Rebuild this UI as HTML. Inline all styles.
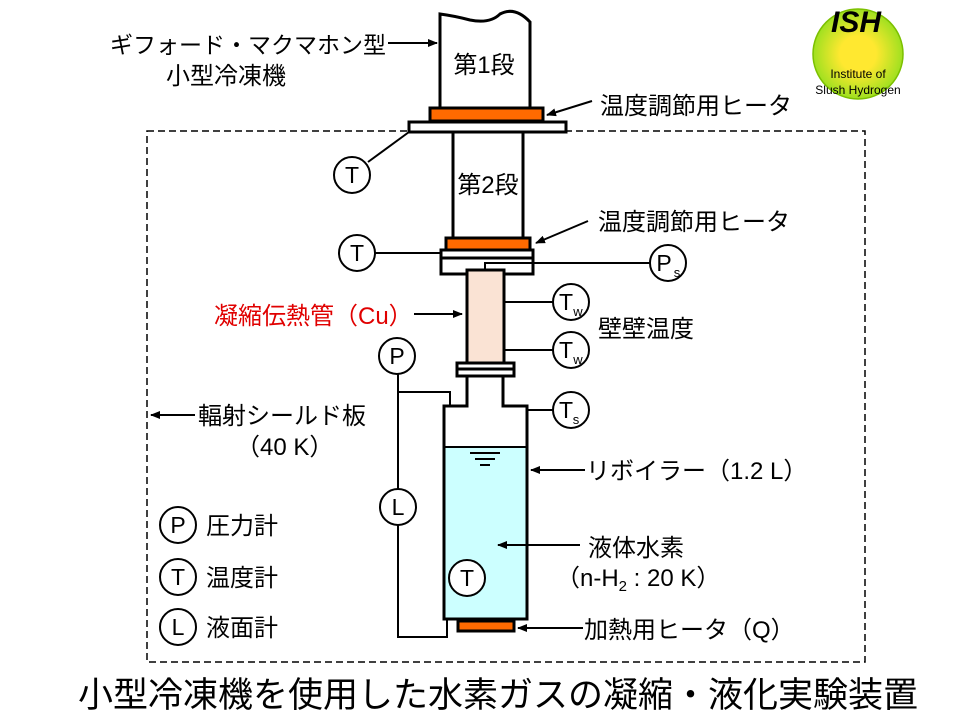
<!DOCTYPE html>
<html><head><meta charset="utf-8"><style>
html,body{margin:0;padding:0;background:#fff}
svg{display:block}
text{font-family:"Liberation Sans","Noto Sans CJK JP",sans-serif;fill:#000}
</style></head><body>
<svg width="960" height="720" viewBox="0 0 960 720" xmlns="http://www.w3.org/2000/svg">
<defs><marker id="a" markerWidth="10" markerHeight="8" refX="9" refY="4" orient="auto" markerUnits="userSpaceOnUse"><path d="M0,0 L10,4 L0,8 z" fill="#000"/></marker></defs>
<g stroke="#000" stroke-width="1.5" fill="none">
<rect x="147" y="131" width="718" height="531" stroke-dasharray="7,4"/>
</g>
<g stroke="#000" stroke-width="3" fill="#fff">
<path d="M440,108 L440,14 Q455,16 470,20 Q490,24 500,14 Q515,6 530,22 L530,108"/>
<rect x="430" y="108" width="113" height="13" fill="#ff6a00"/>
<rect x="409" y="122" width="157" height="10"/>
<rect x="453" y="132" width="70" height="106"/>
<rect x="446" y="238" width="84" height="12" fill="#ff6a00"/>
<rect x="441" y="250" width="92" height="8"/>
<rect x="441" y="258" width="92" height="16"/>
<rect x="467" y="270" width="37" height="93" fill="#fae3d4"/>
<rect x="457" y="363" width="57" height="6"/>
<rect x="457" y="369" width="57" height="7"/>
<rect x="444" y="447" width="83" height="172" fill="#ccffff" stroke="none"/>
<path d="M467,376 L467,406 L444,406 L444,619 L527,619 L527,406 L503,406 L503,376" fill="none"/>
<line x1="444" y1="447" x2="527" y2="447" stroke-width="2"/>
<rect x="458" y="621" width="56" height="10" fill="#ff6a00"/>
</g>
<g stroke="#000" stroke-width="2" fill="none">
<line x1="470" y1="453" x2="500" y2="453"/><line x1="475" y1="459" x2="495" y2="459"/><line x1="480" y1="465" x2="490" y2="465"/>
<line x1="409" y1="132" x2="368" y2="162"/>
<line x1="375" y1="253" x2="441" y2="253"/>
<polyline points="485,270 485,263 650,263"/>
<line x1="504" y1="302" x2="553" y2="302"/>
<line x1="504" y1="350" x2="553" y2="350"/>
<line x1="527" y1="410" x2="553" y2="410"/>
<polyline points="398,374 398,392 450,392 450,406"/>
<line x1="398" y1="374" x2="398" y2="489"/>
<polyline points="398,525 398,637 447,637 447,619"/>
</g>
<g stroke="#000" stroke-width="2" fill="none" marker-end="url(#a)">
<line x1="388" y1="43" x2="437" y2="43"/>
<line x1="592" y1="101" x2="547" y2="115"/>
<line x1="588" y1="221" x2="536" y2="243"/>
<line x1="414" y1="314" x2="462" y2="314"/>
<line x1="195" y1="415" x2="151" y2="415"/>
<line x1="585" y1="470" x2="531" y2="470"/>
<line x1="580" y1="545" x2="498" y2="545"/>
<line x1="583" y1="628" x2="518" y2="628"/>
</g>
<g stroke="#000" stroke-width="2" fill="#fff">
<circle cx="352" cy="175" r="18"/><circle cx="357" cy="253" r="18"/>
<circle cx="668" cy="263" r="18"/><circle cx="571" cy="302" r="18"/>
<circle cx="571" cy="350" r="18"/><circle cx="571" cy="410" r="18"/>
<circle cx="397" cy="356" r="18"/><circle cx="398" cy="507" r="18"/>
<circle cx="467" cy="578" r="18"/>
<circle cx="178" cy="525" r="18"/><circle cx="178" cy="577" r="18"/><circle cx="178" cy="627" r="18"/>
</g>
<g font-size="23" text-anchor="middle">
<text x="352" y="183">T</text><text x="357" y="261">T</text>
<text x="664" y="271">P</text><text x="677" y="277" font-size="13">s</text>
<text x="566" y="310">T</text><text x="578" y="316" font-size="13">w</text>
<text x="566" y="358">T</text><text x="578" y="364" font-size="13">w</text>
<text x="566" y="418">T</text><text x="576" y="424" font-size="13">s</text>
<text x="397" y="364">P</text><text x="398" y="515">L</text><text x="467" y="586">T</text>
<text x="178" y="533">P</text><text x="178" y="585">T</text><text x="178" y="635">L</text>
</g>
<g font-size="24">
<text x="484" y="73" text-anchor="middle">第1段</text>
<text x="488" y="193" text-anchor="middle">第2段</text>
<text x="110" y="53" font-size="23">ギフォード・マクマホン型</text>
<text x="166" y="84">小型冷凍機</text>
<text x="600" y="114">温度調節用ヒータ</text>
<text x="598" y="230">温度調節用ヒータ</text>
<text x="214" y="324" style="fill:#e00000">凝縮伝熱管（Cu）</text>
<text x="598" y="337">壁壁温度</text>
<text x="198" y="424">輻射シールド板</text>
<text x="236" y="455">（40 K）</text>
<text x="586" y="479">リボイラー（1.2 L）</text>
<text x="588" y="556">液体水素</text>
<text x="556" y="586">（n-H<tspan font-size="15" dy="5">2</tspan><tspan dy="-5"> : 20 K）</tspan></text>
<text x="584" y="638">加熱用ヒータ（Q）</text>
<text x="206" y="534">圧力計</text>
<text x="206" y="586">温度計</text>
<text x="206" y="636">液面計</text>
<text x="498" y="707" font-size="35" text-anchor="middle">小型冷凍機を使用した水素ガスの凝縮・液化実験装置</text>
</g>
<defs><radialGradient id="g" cx="0.5" cy="0.5" r="0.5"><stop offset="0.4" stop-color="#ffe830"/><stop offset="1" stop-color="#9fe020"/></radialGradient></defs>
<circle cx="858" cy="54" r="45" fill="url(#g)" stroke="#7cc000" stroke-width="1.5"/>
<text x="856" y="32" font-size="30" font-weight="bold" font-style="italic" text-anchor="middle" fill="#222">ISH</text>
<text x="858" y="78" font-size="12" text-anchor="middle">Institute of</text>
<text x="858" y="94" font-size="12" text-anchor="middle">Slush Hydrogen</text>
</svg>
</body></html>
